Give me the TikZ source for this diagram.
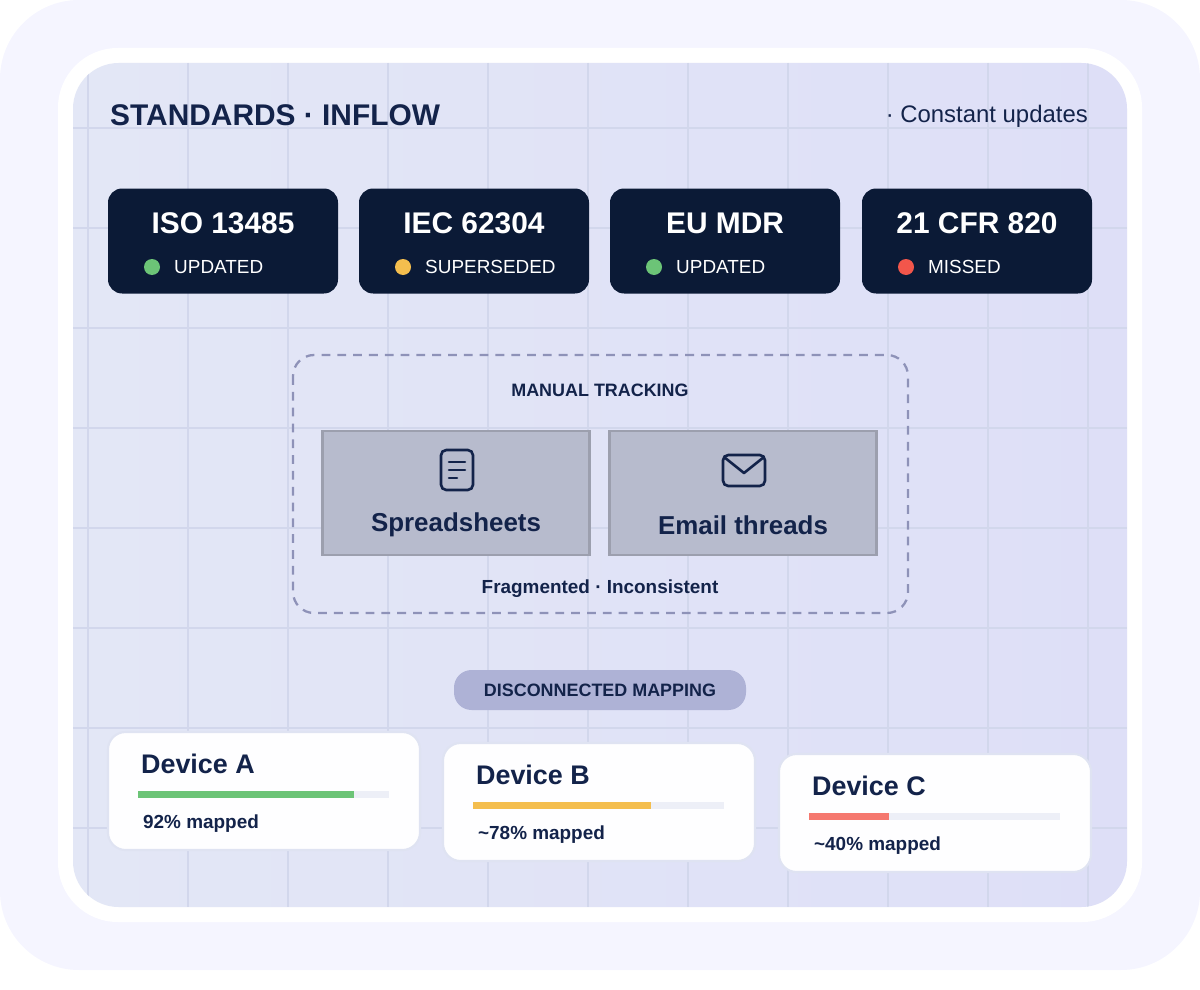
\documentclass[tikz,border=0pt]{standalone}
\usepackage{fontspec}
\setmainfont{Liberation Sans}
\usetikzlibrary{positioning,calc}
\definecolor{navy}{HTML}{0B1A36}
\definecolor{ink}{HTML}{13234A}
\definecolor{gridc}{HTML}{D2D7EC}
\definecolor{okc}{HTML}{6CC477}
\definecolor{warnc}{HTML}{F4BE4E}
\definecolor{badc}{HTML}{F2564B}
\definecolor{boxc}{HTML}{B7BBCD}
\definecolor{pillc}{HTML}{AEB2D6}
\definecolor{dashc}{HTML}{8E92B8}
\definecolor{panelL}{HTML}{E3E7F6}
\definecolor{panelR}{HTML}{DEDFF7}
\newcommand{\px}[1]{\fontsize{\dimexpr 0.567pt*#1\relax}{\dimexpr 0.68pt*#1\relax}\selectfont}
\tikzset{%
  std card/.style={fill=navy, rounded corners=8pt, minimum width=230*0.02cm,
    minimum height=105*0.02cm, inner sep=0pt},
  std name/.style={text=white, font=\px{30}\bfseries},
  std state/.style={text=white, font=\px{19}, anchor=west},
  tool box/.style={fill=boxc, draw=boxc!85!black, line width=1.2pt,
    minimum width=267*0.02cm, minimum height=124*0.02cm, inner sep=0pt},
  device card/.style={fill=white!92!blue!4, draw=gridc!70!white, line width=1.2pt,
    rounded corners=10pt, minimum width=312*0.02cm, minimum height=118*0.02cm, inner sep=0pt},
}
\begin{document}
\begin{tikzpicture}[x=0.02cm, y=-0.02cm]
  \useasboundingbox (0,0) rectangle (1200,990);
  % frames
  \fill[blue!4!white, rounded corners=45pt] (0,0) rectangle (1200,970);
  \fill[white, rounded corners=34pt] (58,48) rectangle (1142,922);
  \shade[left color=panelL, right color=panelR, rounded corners=26pt]
    (73,63) rectangle (1127,907);
  \begin{scope}
    \clip[rounded corners=26pt] (73,63) rectangle (1127,907);
    \foreach \x in {88,188,...,1188}
      \draw[gridc, line width=0.8pt] (\x,63) -- (\x,907);
    \foreach \y in {128,228,...,828}
      \draw[gridc, line width=0.8pt] (73,\y) -- (1127,\y);
  \end{scope}
  % header
  \node[anchor=west, text=ink, font=\px{30}\bfseries] (title) at (104,115) {STANDARDS · INFLOW};
  \node[anchor=east, text=ink, font=\px{24}] (note) at (1094,116) {· Constant updates};
  % standards
  \foreach \n/\x/\t/\s/\c in {iso/223/ISO 13485/UPDATED/okc, iec/474/IEC 62304/SUPERSEDED/warnc,
      mdr/725/EU MDR/UPDATED/okc, cfr/977/21 CFR 820/MISSED/badc} {
    \node[std card] (\n) at (\x,241) {};
    \node[std name] (\n-name) at (\x,223) {\t};
    \node[std state] (\n-state) at (\x-55,267) {\s};
    \fill[\c] ($(\n-state.west)+(-16,0)$) circle (8);
  }
  % manual tracking
  \draw[dashc, dash pattern=on 5pt off 4pt, line width=1.3pt,
    rounded corners=12pt] (293,355) rectangle (908,613);
  \node[text=ink, font=\px{18}\bfseries] (manual) at (600,390) {MANUAL TRACKING};
  \node[tool box] (sheets) at (456,493) {};
  \node[tool box] (mail) at (743,493) {};
  \node[text=ink, font=\px{26}\bfseries] at (456,525) {Spreadsheets};
  \node[text=ink, font=\px{26}\bfseries] at (743,525) {Email threads};
  \draw[ink, line width=1.5pt, rounded corners=3pt] (441,450) rectangle (473,490);
  \foreach \y/\w in {462/20,470/20,478/12}
    \draw[ink, line width=1.5pt, line cap=round] (449,\y) -- ++(\w-4,0);
  \draw[ink, line width=1.5pt, rounded corners=3pt] (723,455) rectangle (765,486);
  \draw[ink, line width=1.5pt, line join=round] (724,457) -- (744,473) -- (764,457);
  \node[text=ink, font=\px{19}\bfseries] (frag) at (600,589) {Fragmented · Inconsistent};
  % mapping
  \node[fill=pillc, rounded corners=10pt, minimum width=292*0.02cm, minimum height=40*0.02cm,
    text=ink, font=\px{18}\bfseries] (pill) at (600,690) {DISCONNECTED MAPPING};
  \foreach \n/\x/\y/\p/\c/\t in {A/264/791/0.86/okc/92\% mapped,
      B/599/802/0.71/warnc/\textasciitilde78\% mapped, C/935/813/0.32/badc!80!white/\textasciitilde40\% mapped} {
    \node[device card] (dev\n) at (\x,\y) {};
    \node[anchor=west, text=ink, font=\px{27}\bfseries] at ($(dev\n.north west)+(28,33)$) {Device \n};
    \fill[gridc!40!white] ($(dev\n.north west)+(31,60)$) rectangle ++(251,7);
    \fill[\c] ($(dev\n.north west)+(31,60)$) rectangle ++(251*\p,7);
    \node[anchor=west, text=ink, font=\px{19}\bfseries] at ($(dev\n.north west)+(30,93)$) {\t};
  }
\end{tikzpicture}
\end{document}
